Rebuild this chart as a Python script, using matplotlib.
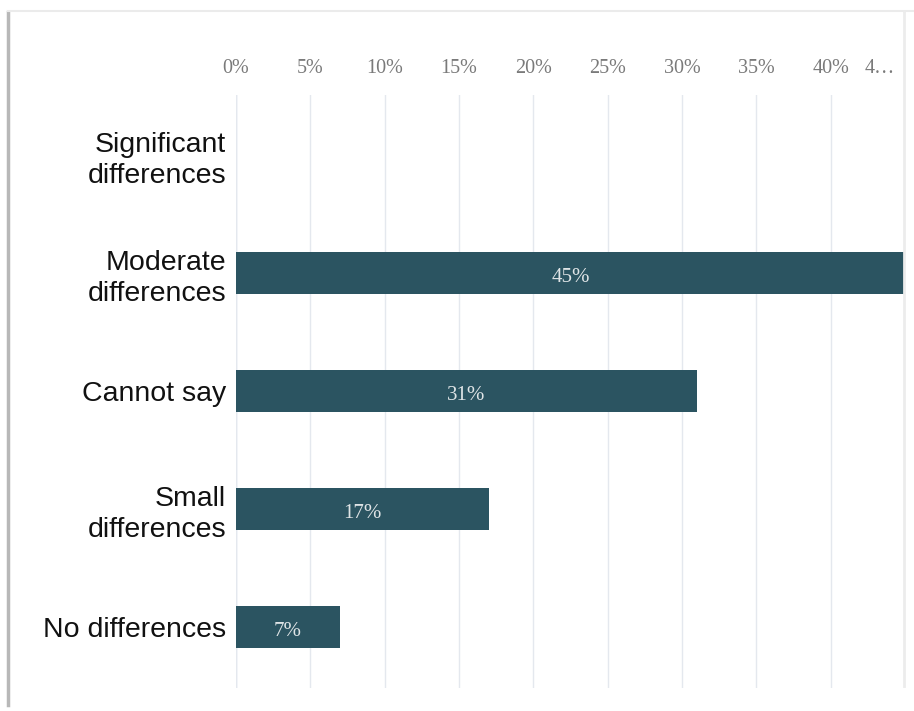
import matplotlib.pyplot as plt
from matplotlib.lines import Line2D
from matplotlib.transforms import ScaledTranslation

categories = ['Significant\ndifferences', 'Moderate\ndifferences', 'Cannot say',
              'Small\ndifferences', 'No differences']
values = [0, 45, 31, 17, 7]
bar_labels = ['', '45%', '31%', '17%', '7%']
xticks = [0, 5, 10, 15, 20, 25, 30, 35, 40, 45]
xticklabels = ['0%', '5%', '10%', '15%', '20%', '25%', '30%', '35%', '40%', '4…']

W, H = 914, 711
fig = plt.figure(figsize=(W / 100, H / 100), dpi=100)
ax = fig.add_axes([236 / W, 1 - 688 / H, (905 - 236) / W, (688 - 95) / H])

pos = list(range(len(categories)))
ax.barh(pos, values, height=0.36, color='#2b5461', zorder=3)
for p, v, lab in zip(pos, values, bar_labels):
    if lab:
        ax.text(v / 2, p + 0.04, lab, ha='center', va='center', color='#dfe4e6',
                fontsize=15, family='Liberation Serif', zorder=4)

ax.set_xlim(0, 45)
ax.set_ylim(4.517, -0.508)
ax.set_xticks(xticks)
ax.set_xticklabels(xticklabels, family='Liberation Serif', fontsize=14.5, color='#7a7a7a')
ax.xaxis.tick_top()
ax.tick_params(axis='x', length=0, pad=12)
# the last label is cut short and sits left of its gridline
last = ax.get_xticklabels()[-1]
last.set_transform(last.get_transform() + ScaledTranslation(-25 / 100, 0, fig.dpi_scale_trans))
ax.set_yticks(pos)
ax.set_yticklabels(categories, family='Liberation Sans', fontsize=20.5, color='#111111',
                   linespacing=1.25)
ax.tick_params(axis='y', length=0, pad=7)
ax.grid(axis='x', color='#e4e8ee', linewidth=1, zorder=0)
for s in ax.spines.values():
    s.set_visible(False)
ax.axvline(0, color='#d3dfec', linewidth=1, zorder=1)

# card border
fig.add_artist(Line2D([8 / W, 8 / W], [1 - 12 / H, 1 - 705 / H], color='#b8b8b8', linewidth=2.5))
fig.add_artist(Line2D([8 / W, 1], [1 - 11 / H, 1 - 11 / H], color='#ebebeb', linewidth=1.5))
fig.add_artist(Line2D([904 / W, 904 / W], [1 - 11 / H, 1 - 686 / H], color='#ececec', linewidth=2))

fig.savefig('out.png', dpi=100)
